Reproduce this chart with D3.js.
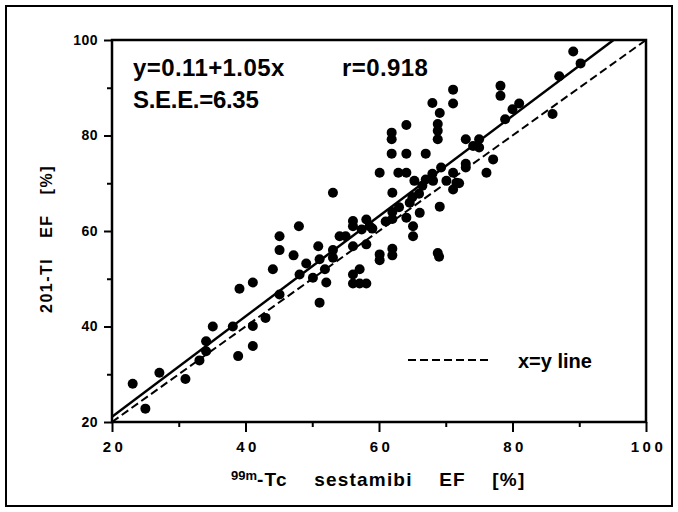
<!DOCTYPE html>
<html>
<head>
<meta charset="utf-8">
<script src="https://cdn.jsdelivr.net/npm/d3@7"></script>
<style>
  body { margin: 0; background: #fff; }
  svg { display: block; }
  text { font-family: "Liberation Sans", Arial, Helvetica, sans-serif; fill: #000; }
</style>
</head>
<body>
<div id="chart"></div>
<script>
// 99m-Tc sestamibi EF (x) vs 201-Tl EF (y)
var sestamibiEF = [
  23.1, 25.0, 27.1, 31.0, 33.1, 34.1, 34.1, 35.1, 38.1, 38.9,
  39.1, 41.1, 41.1, 41.1, 43.0, 44.1, 45.1, 45.1, 45.1, 47.2,
  48.0, 48.1, 49.1, 50.1, 50.9, 51.1, 51.1, 52.1, 51.9, 53.1,
  53.1, 53.1, 54.1, 55.0, 56.1, 56.1, 57.1, 56.1, 56.1, 57.1,
  58.1, 57.4, 58.1, 58.6, 58.1, 59.0, 60.1, 60.1, 60.1, 61.0,
  62.0, 62.0, 62.0, 62.0, 61.9, 61.9, 61.9, 62.9, 64.1, 64.1,
  64.1, 63.0, 64.1, 64.6, 65.1, 65.1, 65.3, 65.0, 66.1, 66.0,
  66.5, 67.0, 67.0, 68.0, 68.0, 68.1, 69.1, 68.8, 68.8, 68.8,
  69.1, 68.8, 69.0, 69.3, 70.1, 71.1, 71.1, 71.1, 71.6, 71.1,
  72.0, 73.0, 73.0, 73.0, 74.1, 75.0, 75.0, 76.1, 77.1, 78.2,
  78.2, 78.9, 80.0, 81.0, 86.0, 87.0, 89.1, 90.2, 62.0, 56.1
];
var thalliumEF = [
  28.0, 22.8, 30.3, 29.0, 32.9, 36.9, 34.8, 40.0, 40.0, 33.8,
  47.9, 49.2, 40.1, 35.9, 41.8, 52.0, 58.9, 56.0, 46.7, 54.9,
  61.0, 50.9, 53.2, 50.2, 56.8, 54.1, 45.0, 49.2, 52.0, 68.0,
  56.0, 54.4, 58.9, 58.9, 62.1, 56.8, 52.0, 50.9, 49.0, 49.0,
  49.0, 60.3, 62.4, 61.0, 57.2, 60.5, 55.1, 53.9, 72.2, 62.0,
  68.0, 64.0, 56.3, 54.9, 76.2, 80.6, 79.2, 72.2, 72.2, 82.2,
  76.2, 65.0, 62.8, 65.9, 61.0, 58.9, 70.5, 67.1, 63.8, 67.8,
  69.5, 70.8, 76.2, 86.8, 72.0, 70.5, 84.7, 82.4, 81.0, 79.2,
  65.1, 55.4, 54.6, 73.3, 70.5, 89.6, 86.7, 72.2, 70.1, 68.7,
  70.0, 79.2, 74.1, 73.3, 77.8, 79.2, 77.5, 72.2, 75.0, 90.4,
  88.3, 83.4, 85.5, 86.7, 84.5, 92.4, 97.6, 95.1, 62.5, 61.0
];

var majorTicks = [20, 40, 60, 80, 100];
var minorTicks = [30, 50, 70, 90];
var fit = { intercept: 0.11, slope: 1.05 };
var statLines = ["y=0.11+1.05x", "S.E.E.=6.35"];
var rLabel = "r=0.918";
var legendLabel = "x=y line";

var width = 678, height = 512;

var svg = d3.select("#chart").append("svg")
    .attr("width", width)
    .attr("height", height);

// outer border of the figure
svg.append("rect")
    .attr("x", 6).attr("y", 6)
    .attr("width", 666).attr("height", 500)
    .attr("fill", "none")
    .attr("stroke", "#000")
    .attr("stroke-width", 2);

var x = d3.scaleLinear().domain([20, 100]).range([112, 646]);
var y = d3.scaleLinear().domain([20, 100]).range([422, 40]);

var plot = svg.append("g");

// clip for lines so the fit stops at the frame
svg.append("clipPath").attr("id", "plotclip")
    .append("rect")
    .attr("x", x(20)).attr("y", y(100))
    .attr("width", x(100) - x(20)).attr("height", y(20) - y(100));

// x axis
var xAxisMajor = plot.append("g")
    .attr("transform", "translate(0," + y(20) + ")")
    .call(d3.axisBottom(x).tickValues(majorTicks).tickSize(10).tickPadding(9));
plot.append("g")
    .attr("transform", "translate(0," + y(20) + ")")
    .call(d3.axisBottom(x).tickValues(minorTicks).tickSize(5).tickFormat(""));

// y axis
var yAxisMajor = plot.append("g")
    .attr("transform", "translate(" + x(20) + ",0)")
    .call(d3.axisLeft(y).tickValues(majorTicks).tickSize(8).tickPadding(6));
plot.append("g")
    .attr("transform", "translate(" + x(20) + ",0)")
    .call(d3.axisLeft(y).tickValues(minorTicks).tickSize(5).tickFormat(""));

plot.selectAll(".domain").remove();
plot.selectAll(".tick line").attr("stroke", "#000").attr("stroke-width", 2);

xAxisMajor.selectAll("text")
    .attr("font-size", "15px")
    .attr("font-weight", "bold")
    .attr("letter-spacing", "3.5px")
    .attr("dx", "2px")
    .attr("font-family", "Liberation Sans, Arial, sans-serif");
yAxisMajor.selectAll("text")
    .attr("font-size", "14px")
    .attr("font-weight", "bold")
    .attr("letter-spacing", "0.5px")
    .attr("font-family", "Liberation Sans, Arial, sans-serif");

// plot frame
plot.append("rect")
    .attr("x", x(20)).attr("y", y(100))
    .attr("width", x(100) - x(20)).attr("height", y(20) - y(100))
    .attr("fill", "none")
    .attr("stroke", "#000")
    .attr("stroke-width", 2.5);

var lines = plot.append("g").attr("clip-path", "url(#plotclip)");

// identity line
lines.append("line")
    .attr("x1", x(20)).attr("y1", y(20))
    .attr("x2", x(100)).attr("y2", y(100))
    .attr("stroke", "#000")
    .attr("stroke-width", 2)
    .attr("stroke-dasharray", "8,4");

// regression line
var xTop = (100 - fit.intercept) / fit.slope;
lines.append("line")
    .attr("x1", x(20)).attr("y1", y(fit.intercept + fit.slope * 20))
    .attr("x2", x(xTop)).attr("y2", y(100))
    .attr("stroke", "#000")
    .attr("stroke-width", 2.5);

// points
plot.append("g").selectAll("circle")
    .data(sestamibiEF.map(function (d, i) { return [d, thalliumEF[i]]; }))
    .enter().append("circle")
    .attr("cx", function (d) { return x(d[0]); })
    .attr("cy", function (d) { return y(d[1]); })
    .attr("r", 5)
    .attr("fill", "#000");

// stats text
var statFont = { size: "24px", weight: "bold" };
plot.append("text")
    .attr("x", 133).attr("y", 76)
    .attr("font-size", statFont.size).attr("font-weight", statFont.weight)
    .attr("letter-spacing", "0.4px")
    .text(statLines[0]);
plot.append("text")
    .attr("x", 133).attr("y", 108)
    .attr("font-size", statFont.size).attr("font-weight", statFont.weight)
    .attr("letter-spacing", "-0.3px")
    .text(statLines[1]);
plot.append("text")
    .attr("x", 342).attr("y", 76)
    .attr("font-size", statFont.size).attr("font-weight", statFont.weight)
    .attr("letter-spacing", "0.4px")
    .text(rLabel);

// legend
plot.append("line")
    .attr("x1", 408).attr("y1", 360)
    .attr("x2", 488).attr("y2", 360)
    .attr("stroke", "#000")
    .attr("stroke-width", 2)
    .attr("stroke-dasharray", "8,4");
plot.append("text")
    .attr("x", 518).attr("y", 368)
    .attr("font-size", "20px")
    .attr("font-weight", "bold")
    .text(legendLabel);

// x axis title
var xt = svg.append("text")
    .attr("x", 231).attr("y", 486)
    .attr("font-weight", "bold")
    .attr("font-size", "19px")
    .attr("word-spacing", "20px")
    .attr("letter-spacing", "1.2px");
xt.append("tspan").attr("font-size", "13px").attr("letter-spacing", "0px").attr("dy", "-6").text("99m");
xt.append("tspan").attr("dy", "6").text("-Tc sestamibi EF [%]");

// y axis title
svg.append("text")
    .attr("transform", "translate(52,239) rotate(-90)")
    .attr("text-anchor", "middle")
    .attr("font-weight", "bold")
    .attr("font-size", "16px")
    .attr("word-spacing", "14px")
    .attr("letter-spacing", "1.5px")
    .text("201-Tl EF [%]");
</script>
</body>
</html>
